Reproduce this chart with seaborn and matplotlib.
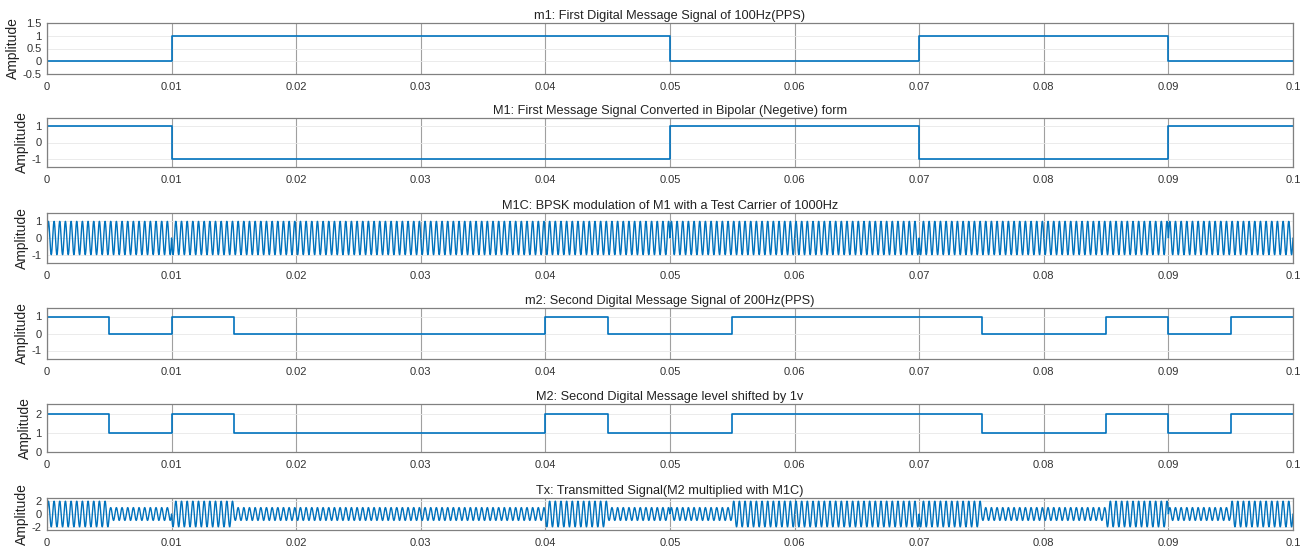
import numpy as np
import matplotlib
matplotlib.use('Agg')
import matplotlib.pyplot as plt
import seaborn as sns

# bit sequences
m1_bits = [0, 1, 1, 1, 1, 0, 0, 1, 1, 0]          # 100 Hz, 0.01 s per bit
m2_bits = [1, 0, 1, 0, 0, 0, 0, 0, 1, 0,
           0, 1, 1, 1, 1, 0, 0, 1, 0, 1]          # 200 Hz, 0.005 s per bit
bit_time_m1 = 0.01
bit_time_m2 = 0.005
carrier_freq = 2200      # visible oscillation rate in the picture
sample_rate = 100000
t_end = 0.1

titles = [
    'm1: First Digital Message Signal of 100Hz(PPS)',
    'M1: First Message Signal Converted in Bipolar (Negetive) form',
    'M1C: BPSK modulation of M1 with a Test Carrier of 1000Hz',
    'm2: Second Digital Message Signal of 200Hz(PPS)',
    'M2: Second Digital Message level shifted by 1v',
    'Tx: Transmitted Signal(M2 multiplied with M1C)',
]
ylims = [(-0.5, 1.5), (-1.5, 1.5), (-1.5, 1.5), (-1.5, 1.5), (0, 2.5), (-2.5, 2.5)]
yticks = [[-0.5, 0, 0.5, 1, 1.5], [-1, 0, 1], [-1, 0, 1], [-1, 0, 1], [0, 1, 2], [-2, 0, 2]]
ytick_labels = [['-0.5', '0', '0.5', '1', '1.5'], ['-1', '0', '1'], ['-1', '0', '1'],
                ['-1', '0', '1'], ['0', '1', '2'], ['-2', '0', '2']]
xticks = [0, 0.01, 0.02, 0.03, 0.04, 0.05, 0.06, 0.07, 0.08, 0.09, 0.1]
xtick_labels = ['0', '0.01', '0.02', '0.03', '0.04', '0.05', '0.06', '0.07', '0.08', '0.09', '0.1']

# derived signals
m1 = np.array(m1_bits, dtype=float)
M1 = 1 - 2 * m1
m2 = np.array(m2_bits, dtype=float)
M2 = m2 + 1

t = np.arange(0, t_end + 1 / sample_rate, 1 / sample_rate)
carrier = np.sin(2 * np.pi * carrier_freq * t)
idx1 = np.minimum((t / bit_time_m1).astype(int), len(M1) - 1)
idx2 = np.minimum((t / bit_time_m2).astype(int), len(M2) - 1)
M1C = M1[idx1] * carrier
Tx = M2[idx2] * M1C

edges1 = np.arange(len(m1) + 1) * bit_time_m1
edges2 = np.arange(len(m2) + 1) * bit_time_m2

signals = [
    (edges1, np.append(m1, m1[-1]), True),
    (edges1, np.append(M1, M1[-1]), True),
    (t, M1C, False),
    (edges2, np.append(m2, m2[-1]), True),
    (edges2, np.append(M2, M2[-1]), True),
    (t, Tx, False),
]

sns.set_theme(style='white')
plt.rcParams['font.family'] = ['Liberation Sans', 'DejaVu Sans']

fig = plt.figure(figsize=(13.08, 5.53), dpi=100)
W, H = 1308, 553
# axes boxes in pixels: (top, bottom)
boxes = [(23, 74), (118, 167), (213, 263), (308, 359), (404, 452), (498, 530)]
left, right = 47, 1293
line_color = '#0072BD'

for i, (x, y, step) in enumerate(signals):
    top, bottom = boxes[i]
    ax = fig.add_axes([left / W, 1 - bottom / H, (right - left) / W, (bottom - top) / H])
    if step:
        sns.lineplot(x=x, y=y, ax=ax, color=line_color, linewidth=1.2,
                     drawstyle='steps-post', estimator=None, sort=False)
    else:
        sns.lineplot(x=x, y=y, ax=ax, color=line_color, linewidth=1.0,
                     estimator=None, sort=False)
    ax.set_xlim(0, t_end)
    ax.set_ylim(*ylims[i])
    ax.set_xticks(xticks)
    ax.set_xticklabels(xtick_labels)
    ax.set_yticks(yticks[i])
    ax.set_yticklabels(ytick_labels[i])
    ax.tick_params(axis='both', direction='in', labelsize=8, length=3,
                   colors='#555555', labelcolor='#333333', pad=4)
    ax.tick_params(axis='x', pad=6)
    ax.xaxis.grid(True, color='#a0a0a0', linewidth=0.8)
    ax.yaxis.grid(True, color='#e8e8e8', linewidth=0.6)
    ax.set_axisbelow(True)
    for s in ax.spines.values():
        s.set_color('#808080')
        s.set_linewidth(0.9)
    ax.set_title(titles[i], fontsize=9.2, pad=3, color='#222222')
    ax.set_ylabel('Amplitude', fontsize=10, labelpad=2, color='#222222')
    ax.set_xlabel('')

fig.savefig('out.png', dpi=100)
